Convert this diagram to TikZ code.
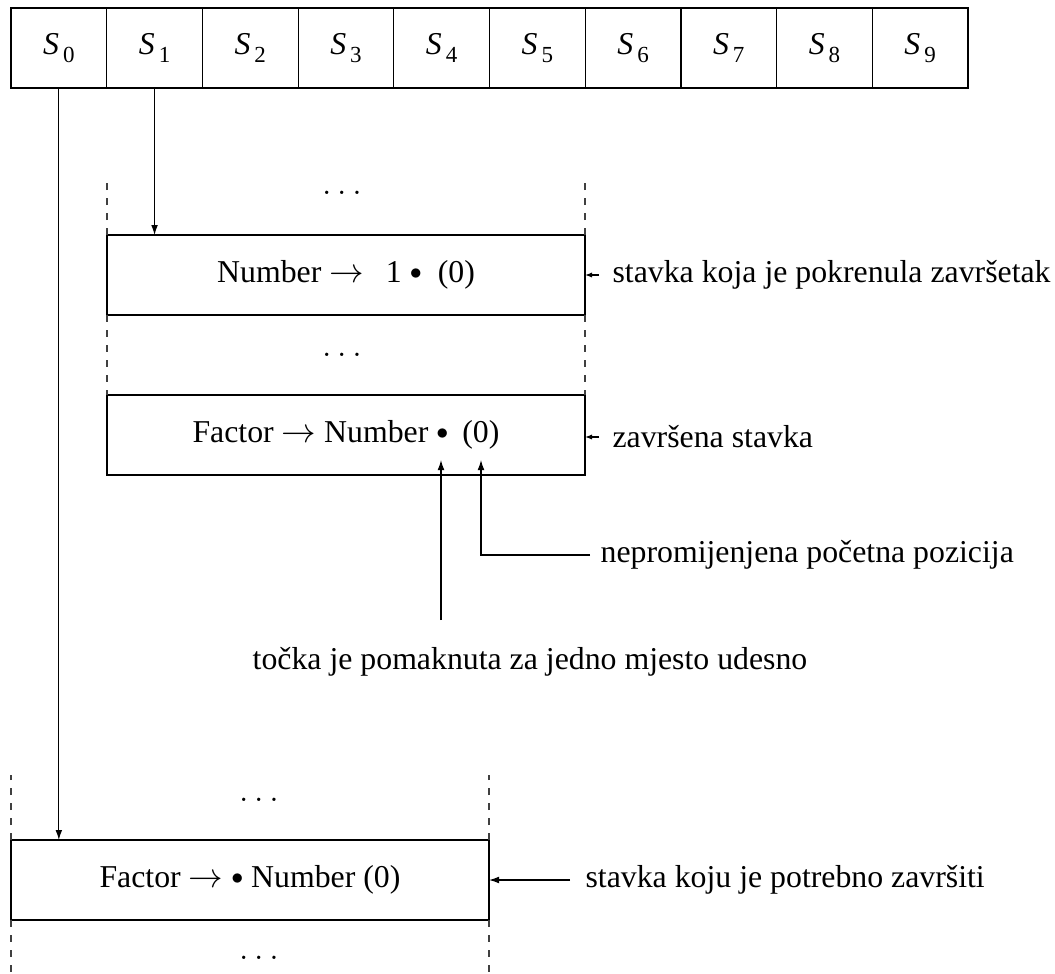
\documentclass[tikz,border=0pt]{standalone}
\usepackage{fontspec}
\setmainfont{Liberation Serif}
\usetikzlibrary{arrows.meta,calc}
\newcommand{\ra}{$\rightarrow$}
\newcommand{\bul}{\raisebox{1.4pt}{\fontsize{12}{14}\selectfont$\bullet$}}
\newcommand{\mydots}{$\ldots$}
\begin{document}
\begin{tikzpicture}[x=0.5pt,y=-0.5pt,
  font=\fontsize{15.9}{19}\selectfont,
  line width=0.6pt,
  cell/.style={draw,minimum width=47.85pt,minimum height=40pt,inner sep=0pt,outer sep=0pt},
  itembox/.style={draw,minimum width=239pt,minimum height=40pt,inner sep=0pt,outer sep=0pt},
  dashside/.style={draw=black!75,line width=0.55pt,dash pattern=on 3.5pt off 4pt},
  arr/.style={-{Latex[length=5pt,width=3.4pt]}},
  sarr/.style={-{Latex[length=3.5pt,width=2.6pt]}},
  lbl/.style={anchor=west,inner ysep=0pt},
  dotsnode/.style={inner sep=0pt}
]
\useasboundingbox (0,0) rectangle (1055,974);

% state array
\foreach \i in {0,...,9}
  \node[cell] (S\i) at ({11+95.7*\i+47.85},48)
    {\textit{S}\kern2pt\raisebox{-0.5ex}{\fontsize{11.5}{13}\selectfont\i}};

% upper group
\node[itembox] (b1) at (346,275)
  {Number \ra\hspace{11pt}1\hspace{4pt}\bul\hspace{8pt}(0)};
\node[itembox] (b2) at (346,435)
  {Factor \ra{} Number \bul\hspace{7pt}(0)};
\draw[dashside] (b1.north west) -- ++(0,-57);
\draw[dashside] (b1.north east) -- ++(0,-57);
\draw[dashside] (b1.south west) -- (b2.north west);
\draw[dashside] (b1.south east) -- (b2.north east);
\node[dotsnode] (d1) at (342,193) {\mydots};
\node[dotsnode] (d2) at (342,355) {\mydots};

% lower group
\node[itembox] (b3) at (250,880) {Factor \ra{} \bul{} Number (0)};
\draw[dashside] (b3.north west) -- ++(0,-65);
\draw[dashside] (b3.north east) -- ++(0,-65);
\draw[dashside] (b3.south west) -- ++(0,54);
\draw[dashside] (b3.south east) -- ++(0,54);
\node[dotsnode] (d3) at (259,800) {\mydots};
\node[dotsnode] (d4) at (259,958) {\mydots};

% arrows from the state array
\draw[arr] (S0.south) -- (S0.south |- b3.north);
\draw[arr] (S1.south) -- (S1.south |- b1.north);

% right-hand labels
\node[lbl,inner xsep=6.5pt] (l1) at (599,275) {stavka koja je pokrenula završetak};
\draw[sarr] (l1.west) -- (b1.east);
\node[lbl,inner xsep=6.5pt] (l2) at (599,437) {završena stavka};
\draw[sarr] (l2.west) -- (b2.east |- l2.west);
\node[lbl,inner xsep=7.5pt] (l3) at (570,880) {stavka koju je potrebno završiti};
\draw[arr] (l3.west) -- (b3.east);

% annotations below box 2
\coordinate (dotTip) at (441,460);
\coordinate (zeroTip) at (481,460);
\coordinate (dotStart) at (441,620);
\node[lbl,inner xsep=5pt] (l4) at (590,555) {nepromijenjena početna pozicija};
\draw[arr] (l4.west) -| (zeroTip);
\draw[arr] (dotStart) -- (dotTip);
\node[inner sep=0pt] (l5) at (530,662) {točka je pomaknuta za jedno mjesto udesno};
\end{tikzpicture}
\end{document}
